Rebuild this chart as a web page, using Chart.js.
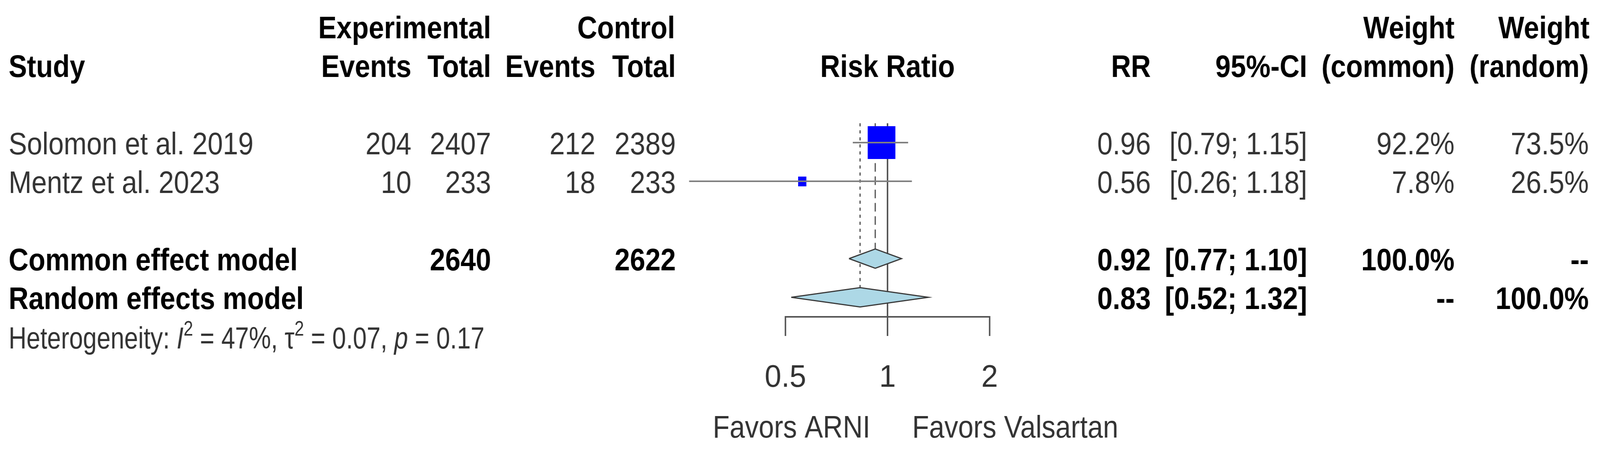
<!DOCTYPE html>
<html>
<head>
<meta charset="utf-8">
<title>Forest plot</title>
<script src="https://cdn.jsdelivr.net/npm/chart.js@4.4.1/dist/chart.umd.min.js"></script>
<style>
  html, body { margin: 0; padding: 0; background: #fff; overflow: hidden; }
  #wrap { width: 4278px; height: 1157px; position: relative; transform-origin: 0 0; }
</style>
</head>
<body>
<div id="wrap"><canvas id="forest"></canvas></div>
<script>
// STUDIES
var studies = ['Solomon et al. 2019', 'Mentz et al. 2023'];
var expEvents = [204, 10];
var expTotal = [2407, 233];
var ctrlEvents = [212, 18];
var ctrlTotal = [2389, 233];
var rr = [0.96, 0.56];
var ciLow = [0.79, 0.26];
var ciHigh = [1.15, 1.18];
var weightCommon = [92.2, 7.8];
var weightRandom = [73.5, 26.5];
var studyRows = [1, 2];

// POOLED MODELS
var models = ['Common effect model', 'Random effects model'];
var modelExpTotal = [2640, null];
var modelCtrlTotal = [2622, null];
var modelRR = [0.92, 0.83];
var modelLow = [0.77, 0.52];
var modelHigh = [1.10, 1.32];
var modelWeightCommon = [100, null];
var modelWeightRandom = [null, 100];
var modelRows = [4, 5];

// HETEROGENEITY
var hetI2 = 47;
var hetTau2 = 0.07;
var hetP = 0.17;

// AXIS
var tickValues = [0.5, 1, 2];
var tickLabels = ['0.5', '1', '2'];
var labelLeft = 'Favors ARNI';
var labelRight = 'Favors Valsartan';

// layout bits
var FONT = '"Liberation Sans", Arial, Helvetica, sans-serif';
var SQ = 0.92;          // picture is a bit narrower than tall
var DIA = 0.25;         // half height of diamonds, in rows
var GREY_TXT = '#333333';
var LINE = '#555555';

// fit the 4278x1157 drawing to whatever the window really is
var wrap = document.getElementById('wrap');
var sx = window.innerWidth / 4278, sy = window.innerHeight / 1157;
if (Math.abs(sx - 1) > 0.002 || Math.abs(sy - 1) > 0.002) {
    wrap.style.transform = 'scale(' + sx + ',' + sy + ')';
}

function squareStyle(w) {
    var side = 8.8 * Math.sqrt(w);
    var c = document.createElement('canvas');
    c.width = Math.round(side * 0.88);
    c.height = Math.round(side);
    var g = c.getContext('2d');
    g.fillStyle = '#0000FF';
    g.fillRect(0, 0, c.width, c.height);
    return c;
}

function fmt2(v) { return v.toFixed(2); }
function ciText(lo, hi) { return '[' + fmt2(lo) + '; ' + fmt2(hi) + ']'; }
function pct(v) { return v == null ? '--' : v.toFixed(1) + '%'; }

var datasets = [];

// reference lines for the pooled estimates
datasets.push({
    data: [{x: modelRR[0], y: 0.5}, {x: modelRR[0], y: modelRows[0] - DIA}],
    showLine: true, pointRadius: 0, borderColor: '#444', borderWidth: 3,
    borderDash: [22, 12], clip: false, order: 6
});
datasets.push({
    data: [{x: modelRR[1], y: 0.5}, {x: modelRR[1], y: modelRows[1] - DIA}],
    showLine: true, pointRadius: 0, borderColor: '#444', borderWidth: 3,
    borderDash: [8, 10], clip: false, order: 6
});

// study squares
datasets.push({
    data: studies.map(function (s, i) { return {x: rr[i], y: studyRows[i]}; }),
    pointStyle: weightCommon.map(squareStyle),
    showLine: false, clip: false, order: 3
});

// confidence intervals
studies.forEach(function (s, i) {
    datasets.push({
        data: [{x: ciLow[i], y: studyRows[i]}, {x: ciHigh[i], y: studyRows[i]}],
        showLine: true, pointRadius: 0, borderColor: '#808080', borderWidth: 4,
        clip: false, order: 1
    });
});

// diamonds
models.forEach(function (m, i) {
    var r = modelRows[i];
    datasets.push({
        data: [
            {x: modelLow[i], y: r},
            {x: modelRR[i], y: r - DIA},
            {x: modelHigh[i], y: r},
            {x: modelRR[i], y: r + DIA},
            {x: modelLow[i], y: r}
        ],
        showLine: true, pointRadius: 0, fill: 'shape',
        backgroundColor: '#ADD8E6', borderColor: '#3a3a3a', borderWidth: 3,
        tension: 0, clip: false, order: 2
    });
});

function txt(ctx, s, x, y, align, bold, color) {
    ctx.save();
    ctx.font = (bold ? 'bold ' : '') + '80px ' + FONT;
    ctx.fillStyle = color || (bold ? '#000' : GREY_TXT);
    ctx.textAlign = align;
    ctx.textBaseline = 'alphabetic';
    ctx.translate(x, y);
    ctx.scale(SQ, 1);
    ctx.fillText(s, 0, 0);
    ctx.restore();
}

var tablePlugin = {
    id: 'table',
    afterDraw: function (chart) {
        var ctx = chart.ctx;
        var ys = chart.scales.y, xs = chart.scales.x;
        function base(r) { return ys.getPixelForValue(r) + 30; }
        var x1 = xs.getPixelForValue(1);

        // header
        var h1 = base(-2), h2 = base(-1);
        txt(ctx, 'Experimental', 1313, h1, 'right', true);
        txt(ctx, 'Control', 1805, h1, 'right', true);
        txt(ctx, 'Weight', 3889, h1, 'right', true);
        txt(ctx, 'Weight', 4250, h1, 'right', true);
        txt(ctx, 'Study', 23, h2, 'left', true);
        txt(ctx, 'Events', 1100, h2, 'right', true);
        txt(ctx, 'Total', 1313, h2, 'right', true);
        txt(ctx, 'Events', 1592, h2, 'right', true);
        txt(ctx, 'Total', 1807, h2, 'right', true);
        txt(ctx, 'Risk Ratio', x1, h2, 'center', true);
        txt(ctx, 'RR', 3077, h2, 'right', true);
        txt(ctx, '95%-CI', 3495, h2, 'right', true);
        txt(ctx, '(common)', 3889, h2, 'right', true);
        txt(ctx, '(random)', 4248, h2, 'right', true);

        // studies
        studies.forEach(function (s, i) {
            var y = base(studyRows[i]);
            txt(ctx, s, 23, y, 'left', false);
            txt(ctx, String(expEvents[i]), 1100, y, 'right', false);
            txt(ctx, String(expTotal[i]), 1313, y, 'right', false);
            txt(ctx, String(ctrlEvents[i]), 1592, y, 'right', false);
            txt(ctx, String(ctrlTotal[i]), 1807, y, 'right', false);
            txt(ctx, fmt2(rr[i]), 3077, y, 'right', false);
            txt(ctx, ciText(ciLow[i], ciHigh[i]), 3495, y, 'right', false);
            txt(ctx, pct(weightCommon[i]), 3889, y, 'right', false);
            txt(ctx, pct(weightRandom[i]), 4248, y, 'right', false);
        });

        // pooled
        models.forEach(function (m, i) {
            var y = base(modelRows[i]);
            txt(ctx, m, 23, y, 'left', true);
            if (modelExpTotal[i] != null) txt(ctx, String(modelExpTotal[i]), 1313, y, 'right', true);
            if (modelCtrlTotal[i] != null) txt(ctx, String(modelCtrlTotal[i]), 1807, y, 'right', true);
            txt(ctx, fmt2(modelRR[i]), 3077, y, 'right', true);
            txt(ctx, ciText(modelLow[i], modelHigh[i]), 3495, y, 'right', true);
            txt(ctx, pct(modelWeightCommon[i]), 3889, y, 'right', true);
            txt(ctx, pct(modelWeightRandom[i]), 4248, y, 'right', true);
        });

        // heterogeneity line (smaller type)
        var parts = [
            {t: 'Heterogeneity: '},
            {t: 'I', it: true},
            {t: '2', sup: true},
            {t: ' = ' + hetI2 + '%, '},
            {t: '\u03c4'},
            {t: '2', sup: true},
            {t: ' = ' + fmt2(hetTau2) + ', '},
            {t: 'p', it: true},
            {t: ' = ' + fmt2(hetP)}
        ];
        var hx = 23, hy = base(6) + 2;
        ctx.save();
        ctx.fillStyle = GREY_TXT;
        ctx.textAlign = 'left';
        parts.forEach(function (p) {
            ctx.font = (p.it ? 'italic ' : '') + (p.sup ? '50px ' : '72px ') + FONT;
            var w = ctx.measureText(p.t).width * SQ;
            ctx.save();
            ctx.translate(hx, p.sup ? hy - 33 : hy);
            ctx.scale(SQ, 1.07);
            ctx.fillText(p.t, 0, 0);
            ctx.restore();
            hx += w;
        });
        ctx.restore();

        // direction labels
        var ly = xs.top + 309;
        txt(ctx, labelLeft, x1 - 46, ly, 'right', false);
        txt(ctx, labelRight, x1 + 66, ly, 'left', false);
    }
};

var ctxForest = document.getElementById('forest').getContext('2d');
var chart = new Chart(ctxForest, {
    type: 'scatter',
    data: { datasets: datasets },
    options: {
        responsive: true,
        maintainAspectRatio: false,
        devicePixelRatio: 1,
        animation: false,
        events: [],
        layout: { padding: { left: 2100, right: 1632, top: 315.5, bottom: 0 } },
        plugins: { legend: { display: false }, tooltip: { enabled: false } },
        scales: {
            x: {
                type: 'logarithmic',
                min: 0.5,
                max: 2,
                afterBuildTicks: function (scale) {
                    scale.ticks = tickValues.map(function (v) { return {value: v}; });
                },
                afterFit: function (scale) { scale.height = 346; },
                border: { display: true, color: LINE, width: 4 },
                grid: {
                    drawOnChartArea: true,
                    color: function (c) { return c.tick && c.tick.value === 1 ? LINE : 'rgba(0,0,0,0)'; },
                    lineWidth: 4,
                    tickColor: LINE,
                    tickLength: 49,
                    tickWidth: 4
                },
                ticks: {
                    autoSkip: false,
                    maxRotation: 0,
                    padding: 60,
                    color: GREY_TXT,
                    font: { family: FONT, size: 80 },
                    callback: function (v, i) { return tickLabels[i]; }
                }
            },
            y: {
                type: 'linear',
                reverse: true,
                min: 0.5,
                max: 5.505,
                display: false,
                grid: { display: false }
            }
        }
    },
    plugins: [tablePlugin]
});
</script>
</body>
</html>
